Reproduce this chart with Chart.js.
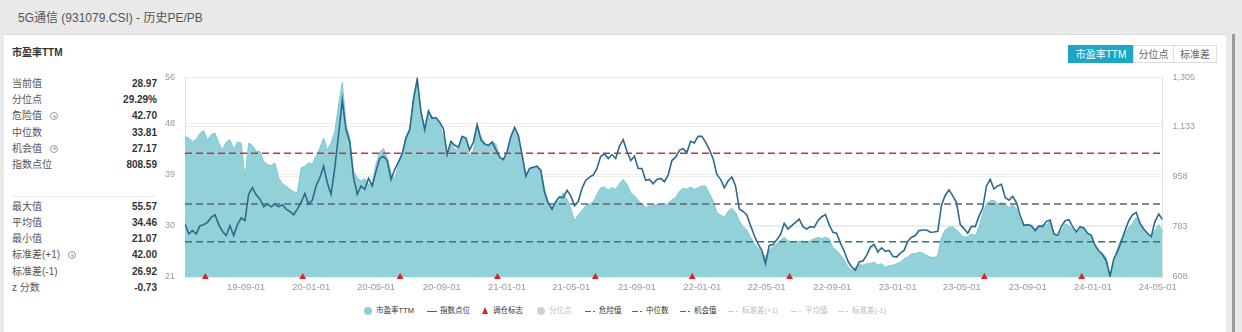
<!DOCTYPE html>
<html>
<head>
<meta charset="utf-8">
<script src="https://cdn.jsdelivr.net/npm/chart.js@4.4.1/dist/chart.umd.min.js"></script>
<style>
  html,body{margin:0;padding:0;}
  body{width:1242px;height:332px;overflow:hidden;background:#e9e9e9;position:relative;
       font-family:"Liberation Sans",Arial,"Noto Sans CJK SC",sans-serif;}
  .abs{position:absolute;white-space:nowrap;}
  #panel{position:absolute;left:4px;top:34px;width:1222px;height:300px;background:#fff;border-top:1px solid #dcdcdc;}
  #title{left:18px;top:11px;font-size:12px;line-height:14px;color:#555;}
  #sub{left:12px;top:47px;font-size:10px;line-height:12px;font-weight:bold;color:#333;}
  .lab{font-size:10px;line-height:12px;color:#555;left:12px;}
  .val{font-size:10px;line-height:12px;color:#333;font-weight:bold;right:1085px;text-align:right;}
  .ico{display:inline-block;width:6px;height:6px;border:1px solid #999;border-radius:50%;position:relative;vertical-align:-1px;margin-left:8px;}
  .ico:after{content:"";position:absolute;left:1.5px;top:1.5px;width:3px;height:3px;border-radius:50%;background:#bbb;}
  .btn{top:45px;height:18px;line-height:18px;font-size:10px;text-align:center;border:1px solid #ddd;color:#666;background:#fff;box-sizing:border-box;}
  .lg{font-size:7.5px;line-height:10px;top:306px;color:#333;}
  .lgi{position:absolute;}
  #chartBox{position:absolute;left:150px;top:62px;width:1065px;height:236px;}
</style>
</head>
<body>
<div id="panel"></div>
<div class="abs" style="left:1232px;top:34px;width:3px;height:298px;background:#9a9a9a;"></div>
<div id="title" class="abs">5G通信 (931079.CSI) - 历史PE/PB</div>
<div id="sub" class="abs">市盈率TTM</div>

<div class="abs btn" style="left:1068px;width:66px;background:#1fa6c6;border-color:#1fa6c6;color:#fff;">市盈率TTM</div>
<div class="abs btn" style="left:1133px;width:41px;">分位点</div>
<div class="abs btn" style="left:1173px;width:44px;">标准差</div>

<div id="stats"></div>
<div class="abs" style="left:12px;top:196px;width:145px;height:1px;background:#eeeeee;"></div>

<div id="chartBox"><canvas id="c" width="1065" height="236"></canvas></div>
<div id="legend"></div>

<script>
// ---------------- data ----------------
const startDate = '2019-05-10'; // first weekly sample
const peValues = [
  45.65,45.36,44.78,45.07,46.23,46.64,45.07,45.94,46.23,44.49,
  43.33,44.67,45.07,43.33,44.67,44.49,38.40,44.49,44.08,43.04,
  43.04,41.30,40.72,40.55,41.01,38.40,37.36,36.95,36.37,35.96,
  35.79,40.14,40.43,41.01,40.84,42.17,43.62,45.36,43.33,44.49,
  46.52,51.16,55.10,47.68,45.36,39.56,38.40,37.82,38.28,37.24,
  37.53,40.72,42.92,43.50,41.88,39.27,38.11,41.01,42.75,45.65,
  47.10,52.61,55.57,50.00,47.40,50.00,
  48.96,48.85,47.80,45.48,42.59,44.67,43.34,43.51,45.37,45.37,
  42.18,43.17,47.69,45.66,44.50,43.92,44.79,44.32,42.12,41.43,
  42.47,45.37,46.99,46.06,42.47,39.11,39.69,40.15,40.15,39.86,
  36.38,34.24,33.20,34.07,34.36,35.80,34.65,33.08,30.88,31.92,
  32.62,33.49,33.78,34.18,35.51,36.67,36.79,36.21,36.67,36.38,
  37.37,38.12,37.25,35.80,35.23,34.47,33.78,33.20,33.49,33.49,
  33.78,33.49,33.49,33.95,34.53,34.94,
  35.98,36.56,36.38,36.79,36.38,36.67,36.96,36.96,35.63,34.36,
  32.33,31.86,31.46,32.50,33.08,32.33,30.88,29.83,29.26,27.98,
  26.82,26.12,25.08,24.62,25.66,26.36,26.82,27.40,27.98,27.40,
  27.05,26.94,27.28,27.28,27.11,27.40,27.69,27.98,27.69,27.98,
  27.69,26.12,25.66,24.91,24.04,22.76,22.18,22.65,23.23,23.05,
  23.34,23.34,23.63,23.05,23.34,22.76,22.99,23.05,23.34,23.57,
  24.21,24.50,25.08,25.08,25.37,
  25.20,24.79,24.50,24.39,24.79,27.98,29.26,29.72,29.83,29.26,
  28.56,27.98,28.10,28.56,28.27,29.72,32.15,33.89,34.36,34.47,
  33.78,34.07,33.78,33.20,33.66,32.91,30.88,29.83,30.18,30.01,
  29.43,29.83,30.18,30.18,30.76,28.56,27.69,29.14,30.30,30.01,
  29.43,28.68,29.49,29.43,28.68,27.98,26.70,25.55,25.20,24.39,
  21.07,23.63,26.12,27.69,28.56,29.72,30.41,31.46,30.30,29.14,
  28.56,28.10,29.14,30.18,28.97
];
const indexValues = [
  793.1,758.5,770.0,758.5,787.3,790.8,798.9,816.2,825.4,790.8,
  767.7,752.7,787.3,752.7,790.8,813.9,804.6,897.0,920.1,894.7,
  879.7,853.1,862.4,853.1,862.4,853.1,860.0,845.0,836.9,825.4,
  845.0,868.1,899.3,862.4,876.2,925.9,954.7,995.1,937.4,897.0,
  989.3,1104.7,1225.9,1122.0,1079.3,954.7,897.0,925.9,914.3,952.4,
  925.9,977.8,1021.6,1029.7,1014.7,948.9,983.5,1010.1,1037.8,1093.2,
  1122.0,1225.9,1300.0,1185.5,1122.0,1187.8,
  1162.4,1164.8,1148.6,1125.5,1035.5,1081.7,1067.8,1060.9,1099.0,1093.2,
  1051.6,1079.3,1139.4,1087.4,1072.4,1067.8,1079.3,1052.8,1026.3,1018.2,
  1047.0,1099.0,1130.1,1102.4,1035.5,960.4,987.0,991.6,995.1,980.1,
  902.8,864.7,845.0,871.6,887.7,885.4,910.8,891.2,856.6,871.6,
  917.8,945.4,957.0,963.9,987.0,1029.7,1037.8,1021.6,1035.5,1021.6,
  1064.3,1087.4,1047.0,1014.7,1029.7,987.0,987.0,945.4,948.9,933.9,
  948.9,952.4,940.9,963.9,1014.7,1026.3,
  1050.5,1056.3,1042.4,1081.7,1075.9,1099.0,1099.0,1079.3,1052.8,1021.6,
  966.2,948.9,920.1,943.2,957.0,925.9,845.0,836.9,825.4,787.3,
  752.7,723.9,700.8,654.6,718.1,721.5,737.7,756.2,795.4,775.8,
  787.3,798.9,810.4,783.9,775.8,783.9,781.5,804.6,818.5,825.4,
  790.8,764.3,760.8,726.2,698.5,663.8,643.1,631.5,660.4,663.8,
  683.4,712.3,721.5,695.0,710.0,697.3,700.8,680.0,677.7,691.5,
  700.8,733.1,746.9,752.7,770.0,
  772.3,772.3,764.3,765.4,767.7,860.0,893.5,912.0,891.2,868.1,
  790.8,777.0,760.8,785.0,783.9,819.6,848.5,925.9,948.9,915.4,
  925.9,931.6,885.4,876.2,890.0,868.1,822.0,788.5,790.8,787.3,
  770.0,786.2,783.9,802.3,806.9,758.5,752.7,785.0,804.6,808.1,
  783.9,765.4,783.9,779.3,760.8,753.9,718.1,699.6,685.8,663.8,
  610.7,671.9,697.3,733.1,770.0,804.6,825.4,833.5,795.4,775.8,
  760.8,749.3,802.3,827.7,808.6
];
const xTickLabels = ['19-09-01','20-01-01','20-05-01','20-09-01','21-01-01','21-05-01','21-09-01',
  '22-01-01','22-05-01','22-09-01','23-01-01','23-05-01','23-09-01','24-01-01','24-05-01'];
const rebalanceDates = ['2019-06-17','2019-12-16','2020-06-15','2020-12-14','2021-06-15',
  '2021-12-13','2022-06-13','2023-06-12','2023-12-11'];
const peTicks = [21, 30, 39, 48, 56];
const indexTicks = [608, 783, 958, 1133, 1305];
const dangerValue = 42.70;
const medianValue = 33.81;
const opportunityValue = 27.17;
const statLabels1 = ['当前值','分位点','危险值','中位数','机会值','指数点位'];
const statValues1 = ['28.97','29.29%','42.70','33.81','27.17','808.59'];
const statIcons1  = [false,false,true,false,true,false];
const statLabels2 = ['最大值','平均值','最小值','标准差(+1)','标准差(-1)','z 分数'];
const statValues2 = ['55.57','34.46','21.07','42.00','26.92','-0.73'];
const statIcons2  = [false,false,false,true,false,false];
const legendItems = [
  {t:'市盈率TTM', k:'circle', c:'#8fcfd7', tc:'#333', x:364},
  {t:'指数点位', k:'line', c:'#2b6a8f', tc:'#333', x:427},
  {t:'调仓标志', k:'tri', c:'#e0202a', tc:'#333', x:482},
  {t:'分位点', k:'circle', c:'#d0d0d0', tc:'#bbb', x:537},
  {t:'危险值', k:'dash', c:'#c8323c', tc:'#333', x:585},
  {t:'中位数', k:'dash', c:'#5b6770', tc:'#333', x:632},
  {t:'机会值', k:'dash', c:'#2e7a6c', tc:'#333', x:680},
  {t:'标准差(+1)', k:'dash', c:'#cfcfcf', tc:'#bbb', x:728},
  {t:'平均值', k:'dash', c:'#cfcfcf', tc:'#bbb', x:791},
  {t:'标准差(-1)', k:'dash', c:'#cfcfcf', tc:'#bbb', x:838}
];

// ---------------- side panel ----------------
const statsEl = document.getElementById('stats');
function addRows(labels, values, icons, yStart){
  labels.forEach((l,i)=>{
    const top = yStart + i*16.2;
    const a = document.createElement('div');
    a.className='abs lab'; a.style.top=top+'px';
    a.innerHTML = l + (icons[i] ? '<span class="ico"></span>' : '');
    statsEl.appendChild(a);
    const b = document.createElement('div');
    b.className='abs val'; b.style.top=top+'px'; b.textContent=values[i];
    statsEl.appendChild(b);
  });
}
addRows(statLabels1, statValues1, statIcons1, 78);
addRows(statLabels2, statValues2, statIcons2, 200.7);

// ---------------- legend ----------------
const lg = document.getElementById('legend');
legendItems.forEach(it=>{
  const d = document.createElement('div');
  d.className='abs lg'; d.style.left = it.x+'px'; d.style.color = it.tc;
  let icon = '', w = 0;
  if(it.k==='circle'){ icon = `<span class="lgi" style="left:0;top:1px;width:8px;height:8px;border-radius:50%;background:${it.c}"></span>`; w=12; }
  if(it.k==='line'){ icon = `<span class="lgi" style="left:0;top:4.5px;width:10px;height:1.5px;background:${it.c}"></span>`; w=13; }
  if(it.k==='tri'){ icon = `<span class="lgi" style="left:0;top:1px;width:0;height:0;border-left:3.5px solid transparent;border-right:3.5px solid transparent;border-bottom:7px solid ${it.c}"></span>`; w=11; }
  if(it.k==='dash'){ icon = `<span class="lgi" style="left:0;top:4.5px;width:6px;height:1.5px;background:${it.c}"></span><span class="lgi" style="left:8px;top:4.5px;width:1.5px;height:1.5px;background:${it.c}"></span>`; w=14; }
  d.innerHTML = icon + `<span style="margin-left:${w}px">${it.t}</span>`;
  lg.appendChild(d);
});

// ---------------- chart ----------------
const DAY = 86400000;
const t0 = Date.parse(startDate);
const weekOf = s => (Date.parse(s) - t0) / (7*DAY);
const lastX = peValues.length - 1;
const pePts = peValues.map((v,i)=>({x:i,y:v}));
const idxPts = indexValues.map((v,i)=>({x:i,y:v}));
const hLine = v => [{x:0,y:v},{x:lastX,y:v}];
const tickFont = {family:'"Liberation Sans", Arial, sans-serif', size:9};

new Chart(document.getElementById('c'), {
  type:'line',
  data:{datasets:[
    {label:'调仓标志', type:'scatter', yAxisID:'yPE', data: rebalanceDates.map(d=>({x:weekOf(d), y:peTicks[0]})),
     pointStyle:'triangle', pointRadius:4, backgroundColor:'#e0202a', borderColor:'#e0202a', borderWidth:0, clip:false, order:0},
    {label:'指数点位', yAxisID:'yIdx', data: idxPts, borderColor:'#2b6a8f', borderWidth:1.6, pointRadius:0, fill:false, order:1},
    {label:'危险值', yAxisID:'yPE', data: hLine(dangerValue), borderColor:'#c8323c', borderWidth:1.4, borderDash:[7,4], pointRadius:0, fill:false, order:2},
    {label:'中位数', yAxisID:'yPE', data: hLine(medianValue), borderColor:'#5b6770', borderWidth:1.4, borderDash:[7,4], pointRadius:0, fill:false, order:2},
    {label:'机会值', yAxisID:'yPE', data: hLine(opportunityValue), borderColor:'#2e7a6c', borderWidth:1.4, borderDash:[7,4], pointRadius:0, fill:false, order:2},
    {label:'市盈率TTM', yAxisID:'yPE', data: pePts, borderColor:'#7fc8d1', borderWidth:1, backgroundColor:'#93d1d9', fill:'start', pointRadius:0, order:5}
  ]},
  options:{
    responsive:false, animation:false, devicePixelRatio:1,
    layout:{padding:{top:13.5,left:0,right:0,bottom:0}},
    plugins:{legend:{display:false}, tooltip:{enabled:false}},
    events:[],
    scales:{
      x:{type:'linear', min:0, max:lastX, position:'bottom',
         grid:{display:false, drawTicks:false}, border:{display:false},
         afterBuildTicks: s => { s.ticks = xTickLabels.map(l=>({value: weekOf('20'+l)})); },
         afterFit: s => { s.height = 21; },
         ticks:{autoSkip:false, maxRotation:0, padding:5, color:'#999', font:{family:'"Liberation Sans", Arial, sans-serif', size:9.5},
                callback:(v,i)=>xTickLabels[i]}},
      yPE:{type:'linear', position:'left', min:peTicks[0], max:peTicks[peTicks.length-1],
         grid:{color:'#ededed', drawTicks:false}, border:{color:'#e2e2e2'},
         afterBuildTicks: s => { s.ticks = peTicks.map(v=>({value:v})); },
         afterFit: s => { s.width = 35; },
         ticks:{padding:10, color:'#999', font:tickFont, callback:v=>String(v)}},
      yIdx:{type:'linear', position:'right', min:indexTicks[0], max:indexTicks[indexTicks.length-1],
         grid:{color:'#ededed', drawTicks:false}, border:{color:'#e2e2e2'},
         afterBuildTicks: s => { s.ticks = indexTicks.map(v=>({value:v})); },
         afterFit: s => { s.width = 52.5; },
         ticks:{padding:10, color:'#999', font:tickFont, callback:v=>v.toLocaleString('en-US')}}
    }
  }
});
</script>
</body>
</html>
